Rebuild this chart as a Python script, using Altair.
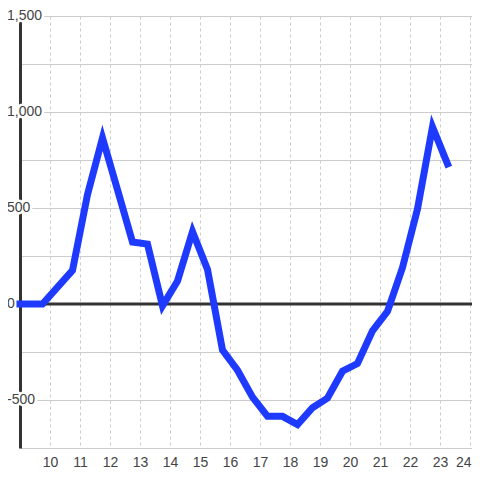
import altair as alt
import pandas as pd

hours = [9.0, 9.75, 10.75, 11.25, 11.75, 12.25, 12.75, 13.25, 13.75, 14.25, 14.75, 15.25,
         15.75, 16.25, 16.75, 17.25, 17.75, 18.25, 18.75, 19.25, 19.75, 20.25, 20.75,
         21.25, 21.75, 22.25, 22.75, 23.25]
values = [0, 0, 175, 570, 865, 595, 323, 312, -10, 120, 377, 180,
          -240, -345, -485, -585, -585, -628, -540, -490, -350, -310, -140,
          -38, 190, 495, 922, 730]

x_ticks = list(range(10, 25))
y_grid = list(range(-750, 1501, 250))
y_label_values = [-500, 0, 500, 1000, 1500]
y_label_text = ["-500", "0", "500", "1,000", "1,500"]

df = pd.DataFrame({"hour": hours, "value": values})
lab = pd.DataFrame({"v": y_label_values, "t": y_label_text})
zero = pd.DataFrame({"y": [0]})

FONT = "Liberation Sans"
xscale = alt.Scale(domain=[9, 24.0667], nice=False, zero=False)
yscale = alt.Scale(domain=[-750, 1500], nice=False, zero=False)

line = alt.Chart(df).mark_line(
    color="#1f3aff", strokeWidth=7, strokeCap="square", strokeJoin="miter", clip=False
).encode(
    x=alt.X("hour:Q", scale=xscale,
            axis=alt.Axis(values=x_ticks, grid=True, gridDash=[3, 3], gridColor="#cccccc",
                          gridWidth=1, domain=False, ticks=False, tickSize=0,
                          labelPadding=7, labelFontSize=14, labelColor="#444444",
                          labelFont=FONT, labelFlush=4, labelFlushOffset=1, title=None)),
    y=alt.Y("value:Q", scale=yscale,
            axis=alt.Axis(values=y_grid, grid=True, gridColor="#cccccc", gridWidth=1,
                          labels=False, ticks=False, tickSize=0, domain=True,
                          domainColor="#333333", domainWidth=3, title=None)),
)

zero_rule = alt.Chart(zero).mark_rule(color="#333333", strokeWidth=3).encode(
    y=alt.Y("y:Q", scale=yscale)
)

halo = alt.Chart(lab).mark_text(
    align="left", baseline="middle", font=FONT, fontSize=14,
    fill="white", stroke="white", strokeWidth=5, strokeJoin="round"
).encode(
    x=alt.value(-13),
    y=alt.Y("v:Q", scale=yscale),
    text="t:N",
)

labels = alt.Chart(lab).mark_text(
    align="left", baseline="middle", font=FONT, fontSize=14, color="#444444"
).encode(
    x=alt.value(-13),
    y=alt.Y("v:Q", scale=yscale),
    text="t:N",
)

chart = alt.layer(zero_rule, halo, labels, line).properties(
    width=452, height=432,
    padding={"left": 12, "top": 8, "right": 0, "bottom": 20},
    autosize="none",
    background="white",
).configure_view(stroke=None)

chart.save("out.html", embed_options={"renderer": "svg", "actions": False})
